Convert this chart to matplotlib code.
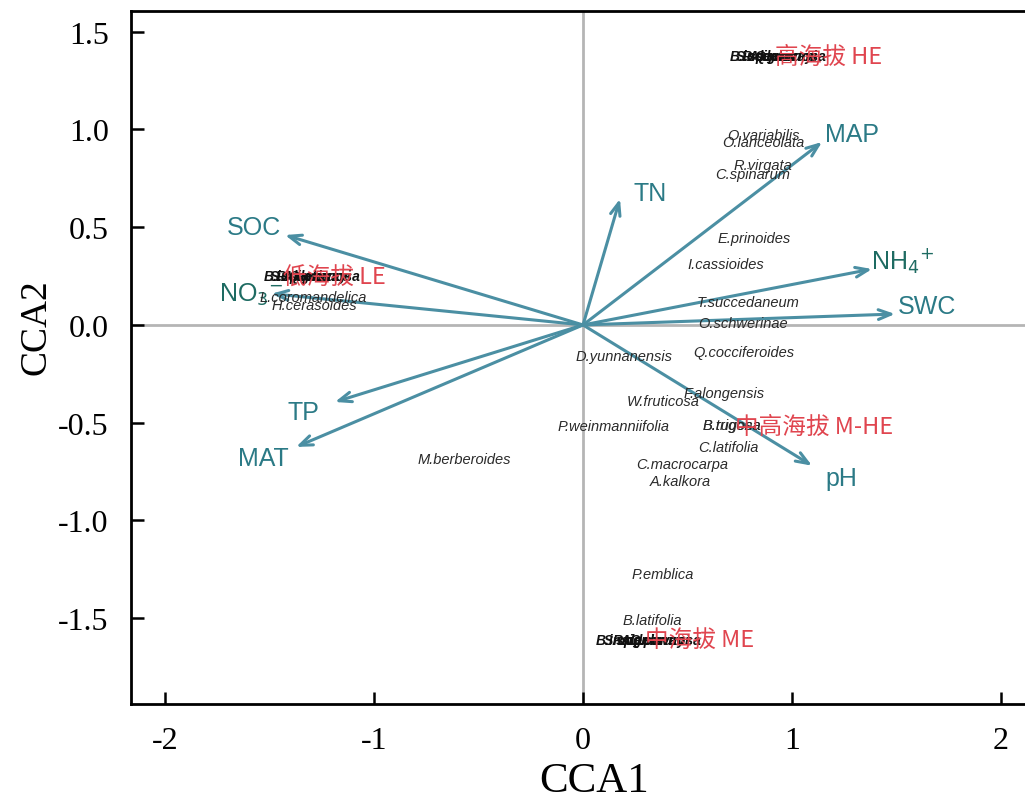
import matplotlib
matplotlib.use("Agg")
import matplotlib.pyplot as plt

# ---------------- data ----------------
env_names = ["MAP", "TN", "SOC", "NO$_3$$^{-}$", "NH$_4$$^{+}$", "SWC", "pH", "TP", "MAT"]
env_x = [1.144, 0.177, -1.426, -1.49, 1.383, 1.493, 1.096, -1.187, -1.373]
env_y = [0.936, 0.645, 0.46, 0.16, 0.286, 0.056, -0.72, -0.394, -0.624]

species_names = ["O.variabilis", "O.lanceolata", "R.virgata", "C.spinarum", "E.prinoides",
                 "I.cassioides", "T.succedaneum", "O.schwerinae", "Q.cocciferoides",
                 "D.yunnanensis", "F.alongensis", "W.fruticosa", "P.weinmanniifolia",
                 "B.rugosa", "B.trigona", "C.latifolia", "C.macrocarpa", "A.kalkora",
                 "M.berberoides", "P.emblica", "B.latifolia", "L.coromandelica", "H.cerasoides"]
species_x = [0.689, 0.665, 0.718, 0.632, 0.646, 0.498, 0.545, 0.55, 0.526, -0.038, 0.483,
             0.21, -0.124, 0.574, 0.574, 0.55, 0.254, 0.32, -0.79, 0.234, 0.191, -1.55, -1.49]
species_y = [0.97, 0.936, 0.818, 0.772, 0.445, 0.312, 0.118, 0.01, -0.138, -0.159, -0.348,
             -0.389, -0.517, -0.51, -0.51, -0.624, -0.711, -0.798, -0.685, -1.274, -1.509,
             0.143, 0.10]

# overlapping (illegible) species labels stacked at the site centroids
cluster_names = ["B.insignis", "S.sp", "R.decorum", "A.delavayi", "Q.pannosa"]
cluster_x_he = [0.70, 0.73, 0.76, 0.79, 0.82]
cluster_y_he = [1.376, 1.376, 1.376, 1.376, 1.376]
cluster_x_le = [-1.53, -1.50, -1.47, -1.44, -1.41]
cluster_y_le = [0.25, 0.25, 0.25, 0.25, 0.25]
cluster_x_me = [0.06, 0.10, 0.14, 0.18, 0.22]
cluster_y_me = [-1.61, -1.61, -1.61, -1.61, -1.61]

site_names = ["高海拔 HE", "低海拔 LE", "中海拔 ME", "中高海拔 M-HE"]
site_x = [0.92, -1.435, 0.297, 0.727]
site_y = [1.376, 0.245, -1.61, -0.517]

x_ticks = [-2, -1, 0, 1, 2]
y_ticks = [-1.5, -1.0, -0.5, 0.0, 0.5, 1.0, 1.5]
y_ticklabels = ["-1.5", "-1.0", "-0.5", "0.0", "0.5", "1.0", "1.5"]

# ---------------- styling ----------------
arrow_col = "#4b8fa3"
lab_col = "#2b7a86"
lab_col_ion = "#1e6b62"
red = "#e0454f"
label_offsets = {  # points offset of label from arrow tip
    "MAP": (2, 6), "TN": (10, 4), "SOC": (-42, 6), "NO$_3$$^{-}$": (-38, 0),
    "NH$_4$$^{+}$": (-1, 6), "SWC": (2, 6), "pH": (10, -9), "TP": (-34, -7), "MAT": (-42, -8),
}

fig = plt.figure(figsize=(10.25, 8.03), dpi=100)
ax = fig.add_axes([131 / 1025, 98 / 803, 1 - 131 / 1025, (705 - 12) / 803])
ax.set_xlim(-2.163, 2.115)
ax.set_ylim(-1.939, 1.606)

ax.axhline(0, color="#b5b5b5", lw=2, zorder=1)
ax.axvline(0, color="#b5b5b5", lw=2, zorder=1)

for name, x, y in zip(env_names, env_x, env_y):
    ax.annotate("", xy=(x, y), xytext=(0, 0),
                arrowprops=dict(arrowstyle="->,head_length=0.9,head_width=0.35",
                                color=arrow_col, lw=2.2, shrinkA=0, shrinkB=0), zorder=3)
    dx, dy = label_offsets[name]
    col = lab_col_ion if ("NO" in name or "NH" in name) else lab_col
    ax.annotate(name, xy=(x, y), xytext=(dx, dy), textcoords="offset points",
                ha="left", va="center", fontsize=18, color=col,
                family="Liberation Sans", zorder=4)

for name, x, y in zip(species_names, species_x, species_y):
    ax.text(x, y, name, fontsize=10.5, style="italic", color="#2a2a2a",
            family="Liberation Sans", ha="left", va="center", zorder=5)

for cx, cy in [(cluster_x_he, cluster_y_he), (cluster_x_le, cluster_y_le), (cluster_x_me, cluster_y_me)]:
    for name, x, y in zip(cluster_names, cx, cy):
        ax.text(x, y, name, fontsize=10, style="italic", weight="bold", color="#111111",
                family="Liberation Sans", ha="left", va="center", zorder=5)

for name, x, y in zip(site_names, site_x, site_y):
    ax.text(x, y, name, fontsize=17, color=red, family=["Noto Sans CJK SC", "DejaVu Sans"],
            ha="left", va="center", zorder=6)

ax.set_xticks(x_ticks)
ax.set_xticklabels([str(t) for t in x_ticks])
ax.set_yticks(y_ticks)
ax.set_yticklabels(y_ticklabels)
ax.tick_params(direction="in", length=9, width=1.8, labelsize=23, pad=16)
for lab in ax.get_xticklabels() + ax.get_yticklabels():
    lab.set_family("Liberation Serif")

for s in ["left", "bottom", "top"]:
    ax.spines[s].set_linewidth(2)
ax.spines["right"].set_visible(False)

ax.set_xlabel("CCA1", fontsize=31, family="Liberation Serif")
ax.xaxis.set_label_coords(0.518, -0.083)
ax.set_ylabel("CCA2", fontsize=27, family="Liberation Serif")
ax.yaxis.set_label_coords(-0.087, 0.545)

fig.savefig("out.png", dpi=100)
